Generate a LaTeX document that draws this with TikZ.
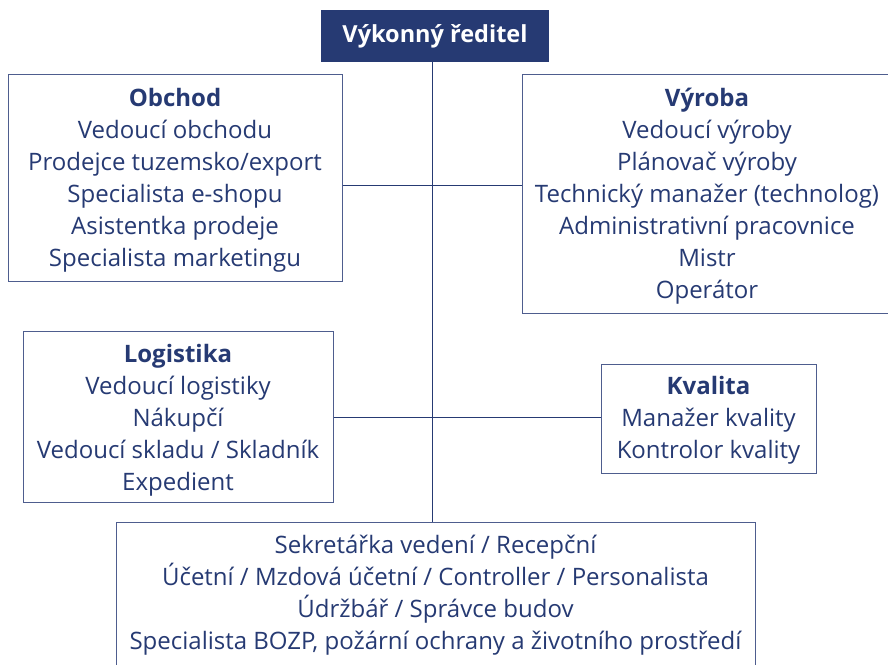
\documentclass[tikz,border=0pt]{standalone}
\usepackage{fontspec}
\setmainfont{Open Sans}
\definecolor{navy}{HTML}{263A73}
\definecolor{boxline}{HTML}{4E5D8E}
\newcommand\topstrut[1]{\rule{0pt}{#1pt}}
\begin{document}
\begin{tikzpicture}[x=1pt,y=-1pt,
  dept/.style={draw=boxline, line width=1pt, fill=white, text=navy, align=center,
    inner sep=0pt, font=\fontsize{24}{32}\selectfont},
  link/.style={draw=navy, line width=1pt}]
\useasboundingbox (0,0) rectangle (888,664);
\clip (0,0) rectangle (888,664);
\node[fill=navy, text=white, minimum width=228pt, minimum height=52pt, inner sep=0pt,
  font=\fontsize{23.5}{28}\selectfont\bfseries] (ceo) at (435,36) {Výkonný ředitel};
\node[dept, minimum width=334pt, minimum height=207pt] (obchod) at (175,177.5)
  {\topstrut{24}\textbf{Obchod}\\Vedoucí obchodu\\Prodejce tuzemsko/export\\Specialista e-shopu\\Asistentka prodeje\\Specialista marketingu};
\node[dept, minimum width=370pt, minimum height=239pt] (vyroba) at (707,193.5)
  {\topstrut{24.3}\textbf{Výroba}\\Vedoucí výroby\\Plánovač výroby\\Technický manažer (technolog)\\Administrativní pracovnice\\Mistr\\Operátor};
\node[dept, minimum width=310pt, minimum height=171pt] (logistika) at (178,416.5)
  {\topstrut{25}\textbf{Logistika}\\Vedoucí logistiky\\Nákupčí\\Vedoucí skladu / Skladník\\Expedient};
\node[dept, minimum width=215pt, minimum height=109pt] (kvalita) at (708.5,419)
  {\topstrut{21}\textbf{Kvalita}\\Manažer kvality\\Kontrolor kvality};
\node[dept, minimum width=639pt, minimum height=143pt] (staff) at (435.5,594)
  {\topstrut{21}Sekretářka vedení / Recepční\\Účetní / Mzdová účetní / Controller / Personalista\\Údržbář / Správce budov\\Specialista BOZP, požární ochrany a životního prostředí};
\coordinate (spine) at (432,0);
\coordinate (row1) at (0,185);
\coordinate (row2) at (0,417);
\draw[link] (ceo.south -| spine) -- (staff.north -| spine);
\draw[link] (obchod.east |- row1) -- (vyroba.west |- row1);
\draw[link] (logistika.east |- row2) -- (kvalita.west |- row2);
\end{tikzpicture}
\end{document}
